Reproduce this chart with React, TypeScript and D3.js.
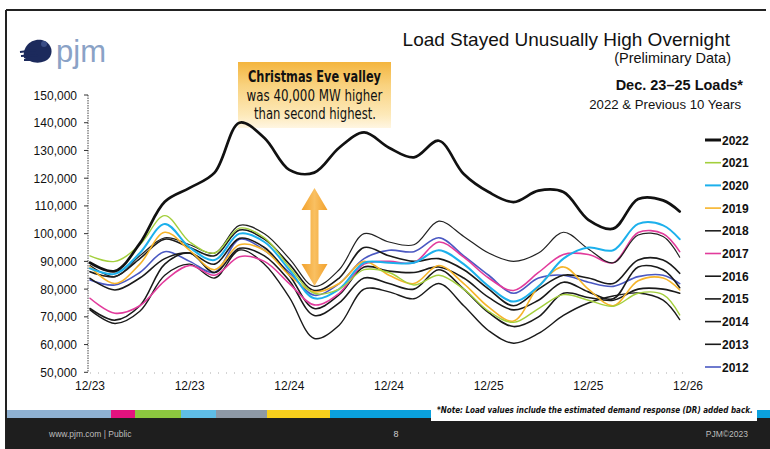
import * as React from "react";
import * as d3 from "d3";

// hours since 12/23 00:00, sampled every 3 h
const hours = [0, 3, 6, 9, 12, 15, 18, 21, 24, 27, 30, 33, 36, 39, 42, 45, 48, 51, 54, 57, 60, 63, 66, 69, 71];

// loads in MW
const load2022 = [89500, 86500, 96500, 111500, 116500, 122000, 140000, 134500, 123000, 122000, 131000, 136500, 131000, 127500, 133500, 121500, 115000, 111400, 115500, 115000, 105000, 101800, 112500, 112000, 108000];
const load2021 = [92000, 90000, 96000, 106500, 97000, 93000, 102000, 98500, 88000, 78500, 80000, 87000, 86000, 81500, 85000, 80000, 72000, 68000, 73000, 78000, 76000, 73800, 78500, 78000, 70700];
const load2020 = [87500, 85500, 93000, 103500, 95000, 90500, 100000, 97000, 87000, 76700, 80000, 89500, 89500, 89500, 94000, 89000, 81000, 75500, 81000, 91000, 95000, 94000, 103500, 103000, 98000];
const load2019 = [88000, 82000, 89000, 100500, 94000, 87000, 96000, 94000, 85000, 79000, 82000, 90000, 85000, 82000, 88500, 82000, 73500, 68500, 81000, 88000, 80000, 74000, 83000, 84000, 79700];
const load2018 = [88500, 84500, 92000, 98500, 96000, 93000, 103000, 100000, 91000, 81000, 87000, 100000, 97000, 96000, 104500, 99000, 93000, 90000, 93000, 100500, 94500, 89500, 99500, 99000, 91500];
const load2017 = [76700, 71300, 74000, 83000, 88500, 85000, 91700, 90000, 82000, 74300, 78500, 89000, 90000, 89500, 97000, 91500, 84000, 79500, 86000, 92500, 92500, 89500, 100400, 100000, 93500];
const load2016 = [86300, 84500, 91000, 98000, 95000, 92000, 101300, 98000, 89000, 79500, 84000, 95000, 92000, 90000, 91000, 87000, 80000, 74000, 80000, 85000, 84000, 82000, 90500, 90500, 85700];
const load2015 = [83900, 79700, 84000, 91000, 93000, 89000, 98300, 95000, 85000, 73000, 78000, 88000, 86500, 86000, 88000, 84000, 77000, 72500, 76000, 82500, 79000, 76500, 88000, 87000, 80500];
const load2014 = [73000, 68800, 74000, 89000, 93000, 86000, 94700, 92000, 83000, 70500, 75000, 84000, 82000, 80000, 87000, 80000, 71500, 66500, 70000, 78500, 77000, 76000, 80000, 80000, 78500];
const load2013 = [72500, 67600, 72000, 85000, 89000, 84000, 94100, 89000, 77000, 62200, 67000, 80000, 79000, 76500, 82000, 74000, 65000, 60500, 64000, 70500, 75000, 77500, 78600, 76000, 69000];
const load2012 = [83300, 81500, 86000, 93500, 90000, 86000, 98000, 94000, 86000, 77800, 82000, 91000, 94000, 93500, 98500, 92000, 85000, 78500, 84000, 85000, 82500, 81000, 84500, 85000, 82000];

const years = ["2022", "2021", "2020", "2019", "2018", "2017", "2016", "2015", "2014", "2013", "2012"];
const colors = ["#111111", "#a3cf3c", "#1cb0ec", "#f6b42a", "#222222", "#e23b9c", "#1a1a1a", "#1a1a1a", "#1a1a1a", "#1a1a1a", "#4a58c2"];
const widths = [2.7, 1.4, 2, 1.6, 1.2, 1.6, 1.6, 1.6, 1.6, 1.4, 1.6];
const loads = [load2022, load2021, load2020, load2019, load2018, load2017, load2016, load2015, load2014, load2013, load2012];

const yTicks = [50000, 60000, 70000, 80000, 90000, 100000, 110000, 120000, 130000, 140000, 150000];
const xTickHours = [0, 12, 24, 36, 48, 60, 72];
const xTickLabels = ["12/23", "12/23", "12/24", "12/24", "12/25", "12/25", "12/26"];

const FONT = "'Liberation Sans', Arial, sans-serif";
const NARROW = "'Liberation Sans Narrow', 'Arial Narrow', 'DejaVu Sans Condensed', 'Liberation Sans', sans-serif";

const xScale = d3.scaleLinear().domain([0, 72]).range([90, 688]);
const yScale = d3.scaleLinear().domain([50000, 150000]).range([372.3, 95]);

const lineGen = d3
  .line<number>()
  .x((_, i) => xScale(hours[i]))
  .y((d) => yScale(d))
  .curve(d3.curveCatmullRom.alpha(0.5));

const LoadChart = () => {
  const fmt = d3.format(",");

  const drawOrder = d3.range(years.length).reverse();

  // double arrow under the Christmas Eve valley
  const ax = 314.5, aTop = 188, aBot = 286, hw = 13, hh = 22, sw = 4;
  const arrow = `M${ax},${aTop} L${ax + hw},${aTop + hh} L${ax + sw},${aTop + hh} L${ax + sw},${aBot - hh} L${ax + hw},${aBot - hh} L${ax},${aBot} L${ax - hw},${aBot - hh} L${ax - sw},${aBot - hh} L${ax - sw},${aTop + hh} L${ax - hw},${aTop + hh} Z`;

  const stripe = [
    [7, 111, "#8fb1d2"],
    [111, 135, "#e3127f"],
    [135, 181, "#8cc63f"],
    [181, 216, "#5fbde6"],
    [216, 267, "#8e99a6"],
    [267, 330, "#f8cf1d"],
    [330, 431, "#0aa0dd"],
    [757, 770, "#0aa0dd"],
  ] as [number, number, string][];

  return (
    <svg width={770} height={449} style={{ position: "absolute", left: 0, top: 0, background: "#fff" }}>
      <defs>
        <linearGradient id="boxGrad" x1="0" y1="0" x2="0" y2="1">
          <stop offset="0" stopColor="#f4b53e" />
          <stop offset="0.35" stopColor="#f9d27e" />
          <stop offset="0.8" stopColor="#fde9b9" />
          <stop offset="1" stopColor="#fff6e2" />
        </linearGradient>
        <linearGradient id="arrowGrad" x1="0" y1="0" x2="1" y2="0">
          <stop offset="0" stopColor="#f2a12c" />
          <stop offset="0.5" stopColor="#f9c062" />
          <stop offset="1" stopColor="#f2a12c" />
        </linearGradient>
      </defs>

      <rect x={0} y={0} width={770} height={449} fill="#fff" />

      {/* slide frame */}
      <line x1={6} y1={10} x2={766} y2={10} stroke="#222" strokeWidth={2} />
      <line x1={6} y1={10} x2={6} y2={449} stroke="#222" strokeWidth={2} />

      {/* logo */}
      <g>
        <path d="M24,58 C22,48 30,38 42,40 C50,42 54,50 50,57 C46,63 36,64 30,61 Z" fill="#1c2a5c" />
        <path d="M20,52 L36,50 M21,56 L38,55 M24,60 L40,60" stroke="#1c2a5c" strokeWidth={2} />
        <circle cx={44} cy={44} r={3} fill="#3a4d86" />
        <text x={56} y={62} fontFamily={FONT} fontSize={31} fill="#8aa2c6">pjm</text>
      </g>

      {/* titles */}
      <text x={730} y={46} textAnchor="end" fontFamily={FONT} fontSize={19} fill="#111">
        Load Stayed Unusually High Overnight
      </text>
      <text x={731} y={63} textAnchor="end" fontFamily={FONT} fontSize={14.5} fill="#111">
        (Preliminary Data)
      </text>
      <text x={743} y={90} textAnchor="end" fontFamily={FONT} fontSize={14.5} fontWeight="bold" fill="#111">
        Dec. 23–25 Loads*
      </text>
      <text x={741} y={109} textAnchor="end" fontFamily={FONT} fontSize={13.2} fill="#111">
        2022 &amp; Previous 10 Years
      </text>

      {/* annotation box (lines run over its faded lower edge) */}
      <rect x={238} y={62} width={153} height={66} fill="url(#boxGrad)" />
      <text x={314.5} y={82} textAnchor="middle" fontFamily={NARROW} fontSize={15} fontWeight="bold" fill="#111" textLength={133} lengthAdjust="spacingAndGlyphs">
        Christmas Eve valley
      </text>
      <text x={314.5} y={101} textAnchor="middle" fontFamily={NARROW} fontSize={15} fill="#111" textLength={136} lengthAdjust="spacingAndGlyphs">
        was 40,000 MW higher
      </text>
      <text x={315} y={119} textAnchor="middle" fontFamily={NARROW} fontSize={15} fill="#111" textLength={122} lengthAdjust="spacingAndGlyphs">
        than second highest.
      </text>

      {/* y axis */}
      <line x1={88} y1={yScale(150000)} x2={88} y2={yScale(50000)} stroke="#444" strokeWidth={1} strokeDasharray="1.5,1" />
      {yTicks.map((t) => (
        <g key={t}>
          <line x1={84} x2={88} y1={yScale(t)} y2={yScale(t)} stroke="#333" />
          <text x={77} y={yScale(t) + 4.5} textAnchor="end" fontFamily={FONT} fontSize={12} fill="#111">
            {fmt(t)}
          </text>
        </g>
      ))}

      {/* x axis */}
      <line x1={90} y1={373} x2={688} y2={373} stroke="#aaa" strokeWidth={1} strokeDasharray="1,7" />
      {xTickHours.map((h, i) => (
        <text key={i} x={xScale(h)} y={390} textAnchor="middle" fontFamily={FONT} fontSize={12} fill="#111">
          {xTickLabels[i]}
        </text>
      ))}

      {/* series */}
      {drawOrder.map((i) => (
        <path
          key={years[i]}
          d={lineGen(loads[i]) || ""}
          fill="none"
          stroke={colors[i]}
          strokeWidth={widths[i]}
          strokeLinejoin="round"
          strokeLinecap="round"
        />
      ))}

      <path d={arrow} fill="url(#arrowGrad)" />

      {/* legend */}
      {years.map((yr, i) => {
        const ly = 140 + i * 22.7;
        return (
          <g key={yr}>
            <line x1={705} x2={721} y1={ly} y2={ly} stroke={colors[i]} strokeWidth={i === 0 ? 3 : Math.max(widths[i], 1.6)} />
            <text x={722} y={ly + 4.5} fontFamily={FONT} fontSize={12} fontWeight="bold" fill="#111">
              {yr}
            </text>
          </g>
        );
      })}

      {/* footer */}
      <rect x={6} y={418} width={764} height={31} fill="#1e1e1e" />
      {stripe.map(([a, b, c], i) => (
        <rect key={i} x={a} y={410} width={b - a} height={8} fill={c} />
      ))}
      <rect x={431} y={397} width={326} height={24} fill="#fff" />
      <g transform="translate(437,413) scale(0.82,1)">
        <text x={0} y={0} fontFamily={NARROW} fontSize={9.6} fontStyle="italic" fontWeight="bold" fill="#111" textLength={385} lengthAdjust="spacingAndGlyphs">
          *Note: Load values include the estimated demand response (DR) added back.
        </text>
      </g>
      <text x={49} y={437} fontFamily={FONT} fontSize={8.5} fill="#bdbdbd">
        www.pjm.com | Public
      </text>
      <text x={396} y={437} textAnchor="middle" fontFamily={FONT} fontSize={9} fill="#cfcfcf">
        8
      </text>
      <text x={748} y={437} textAnchor="end" fontFamily={FONT} fontSize={8.5} fill="#bdbdbd">
        PJM©2023
      </text>
    </svg>
  );
};

export default function App() {
  return <LoadChart />;
}
